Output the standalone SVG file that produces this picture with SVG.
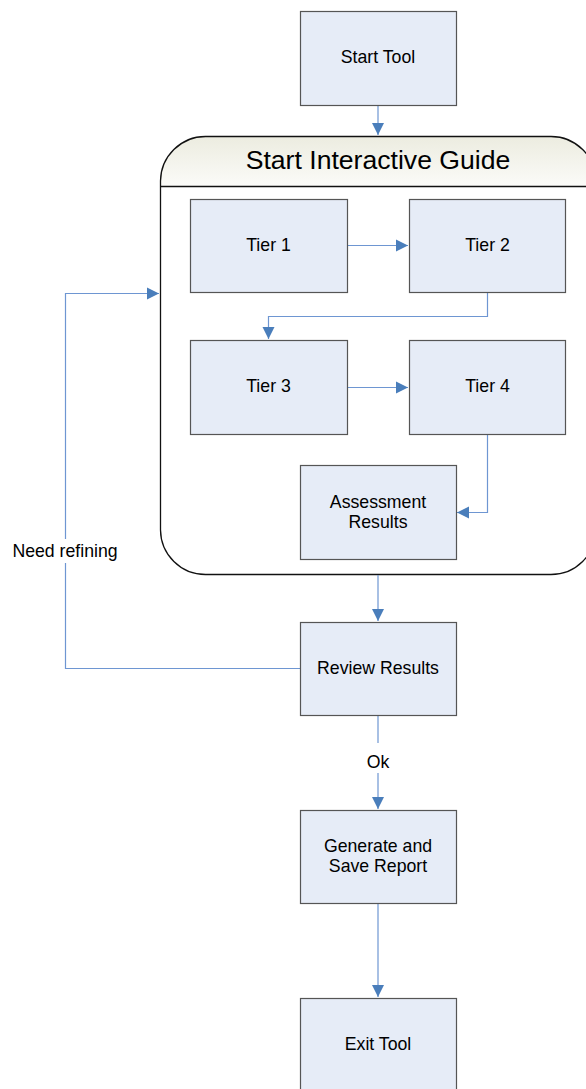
<svg xmlns="http://www.w3.org/2000/svg" width="586" height="1089" viewBox="0 0 586 1089">
<style>
.box{fill:#e6ecf7;stroke:#555;stroke-width:1.2}
.t{font-family:"Liberation Sans",Arial,sans-serif;font-size:17.7px;fill:#000;text-anchor:middle}
.c{fill:none;stroke:#6e96d2;stroke-width:1.2}
.lbl{fill:#fff}
</style>
<defs>
<linearGradient id="hdr" x1="0" y1="0" x2="0" y2="1">
<stop offset="0" stop-color="#ecece0"/>
<stop offset="1" stop-color="#fbfbf8"/>
</linearGradient>
<marker id="ar" markerUnits="userSpaceOnUse" markerWidth="13" markerHeight="13" viewBox="0 0 13 13" refX="12" refY="6.5" orient="auto">
<path d="M0,0.5 L12,6.5 L0,12.5 Z" fill="#4a7ebb"/>
</marker>
</defs>
<rect width="586" height="1089" fill="#fff"/>

<g id="container">
<path d="M160.5,186 L160.5,181 A45,45 0 0 1 205.5,136.5 L551,136.5 A45,45 0 0 1 596,181 L596,186 Z" fill="url(#hdr)"/>
<path d="M205.5,136.5 L551,136.5 A45,45 0 0 1 596,181 L596,530 A45,45 0 0 1 551,574.5 L205.5,574.5 A45,45 0 0 1 160.5,530 L160.5,181 A45,45 0 0 1 205.5,136.5 Z" fill="none" stroke="#111" stroke-width="1.3"/>
<line x1="160.5" y1="186.5" x2="596" y2="186.5" stroke="#111" stroke-width="1.3"/>
<text x="378" y="169" class="t" style="font-size:26.6px">Start Interactive Guide</text>
</g>

<g id="connectors">
<path class="c" d="M378,105 L378,135" marker-end="url(#ar)"/>
<path class="c" d="M347,245.5 L408,245.5" marker-end="url(#ar)"/>
<path class="c" d="M487.5,292 L487.5,316.5 L268.5,316.5 L268.5,339" marker-end="url(#ar)"/>
<path class="c" d="M347,387.5 L408,387.5" marker-end="url(#ar)"/>
<path class="c" d="M487.5,434 L487.5,512.5 L457,512.5" marker-end="url(#ar)"/>
<path class="c" d="M378,575 L378,621" marker-end="url(#ar)"/>
<path class="c" d="M300,668.5 L65.5,668.5 L65.5,293.5 L159,293.5" marker-end="url(#ar)"/>
<path class="c" d="M378,715 L378,809" marker-end="url(#ar)"/>
<path class="c" d="M378,903 L378,997" marker-end="url(#ar)"/>
<rect class="lbl" x="11" y="539" width="110" height="24"/>
<text x="65" y="557" class="t">Need refining</text>
<rect class="lbl" x="365" y="743" width="26" height="30"/>
<text x="378" y="768" class="t">Ok</text>
</g>

<g id="start-tool"><rect class="box" x="300.5" y="11.5" width="156" height="94"/><text x="378" y="63" class="t">Start Tool</text></g>
<g id="tier1"><rect class="box" x="190.5" y="199.5" width="157" height="93"/><text x="268.5" y="251" class="t">Tier 1</text></g>
<g id="tier2"><rect class="box" x="409.5" y="199.5" width="156" height="93"/><text x="487.5" y="251" class="t">Tier 2</text></g>
<g id="tier3"><rect class="box" x="190.5" y="340.5" width="157" height="94"/><text x="268.5" y="392" class="t">Tier 3</text></g>
<g id="tier4"><rect class="box" x="409.5" y="340.5" width="156" height="94"/><text x="487.5" y="392" class="t">Tier 4</text></g>
<g id="assessment"><rect class="box" x="300.5" y="465.5" width="156" height="94"/><text x="378" y="508" class="t">Assessment</text><text x="378" y="528" class="t">Results</text></g>
<g id="review"><rect class="box" x="300.5" y="622.5" width="156" height="93"/><text x="378" y="674" class="t">Review Results</text></g>
<g id="generate"><rect class="box" x="300.5" y="810.5" width="156" height="93"/><text x="378" y="852" class="t">Generate and</text><text x="378" y="872" class="t">Save Report</text></g>
<g id="exit"><rect class="box" x="300.5" y="998.5" width="156" height="94"/><text x="378" y="1050" class="t">Exit Tool</text></g>
</svg>
